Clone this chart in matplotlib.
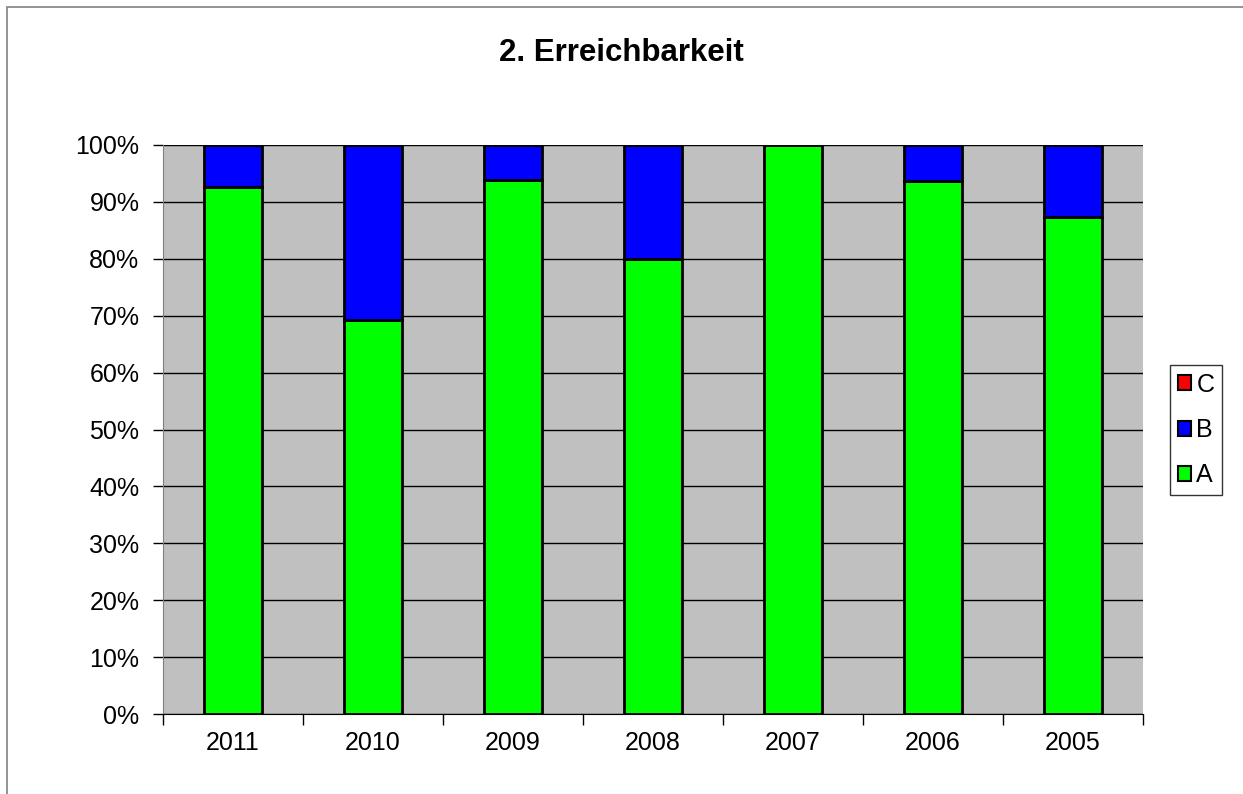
# Erreichbarkeit - stacked 100% bars

import numpy as np
import matplotlib.pyplot as plt
from matplotlib.ticker import FuncFormatter, FixedLocator

plt.rcParams["font.family"] = ["Liberation Sans", "DejaVu Sans"]

# ------------------------------------------
# Data (share in %)
# ------------------------------------------

years = ["2011", "2010", "2009", "2008", "2007", "2006", "2005"]
share_a = [92.6, 69.2, 93.8, 79.9, 100.0, 93.6, 87.3]
share_b = [7.4, 30.8, 6.2, 20.1, 0.0, 6.4, 12.7]
share_c = [0.0, 0.0, 0.0, 0.0, 0.0, 0.0, 0.0]

# ------------------------------------------
# Figure
# ------------------------------------------

fig = plt.figure(figsize=(12.43, 7.94), dpi=100)
fig.patch.set_facecolor("white")

# outer chart frame
fig.patches.append(plt.Rectangle((7 / 1243, -0.01), 1.1, 1 - 7 / 794 + 0.01,
                                 transform=fig.transFigure, fill=False,
                                 edgecolor="#808080", linewidth=1.2))

ax = fig.add_axes([163 / 1243, 1 - 714 / 794, 980 / 1243, 569 / 794])
ax.set_facecolor("#C0C0C0")

x = np.arange(len(years))
a = np.array(share_a)
b = np.array(share_b)
c = np.array(share_c)

bar_w = 0.41
bars_a = ax.bar(x, a, bar_w, color="#00FF00", edgecolor="black", linewidth=2, label="A", zorder=3)
bars_b = ax.bar(x, b, bar_w, bottom=a, color="#0000FF", edgecolor="black", linewidth=2, label="B", zorder=3)
bars_c = ax.bar(x, c, bar_w, bottom=a + b, color="#FF0000", edgecolor="black", linewidth=2, label="C", zorder=3)

ax.set_xlim(-0.5, len(years) - 0.5)
ax.set_ylim(0, 100)

ax.set_yticks(np.arange(0, 101, 10))
ax.yaxis.set_major_formatter(FuncFormatter(lambda v, p: f"{v:.0f}%"))
ax.yaxis.grid(True, color="black", linewidth=1, zorder=1)
ax.set_axisbelow(True)

ax.set_xticks(x)
ax.set_xticklabels(years)
ax.xaxis.set_minor_locator(FixedLocator(np.arange(-0.5, len(years), 1.0)))
ax.tick_params(axis="x", which="major", length=0, pad=12, labelsize=18)
ax.tick_params(axis="x", which="minor", length=8, width=1, direction="out")
ax.tick_params(axis="y", length=7, width=1, direction="out", labelsize=18, pad=10)

for side in ["top", "right"]:
    ax.spines[side].set_visible(False)
ax.spines["left"].set_color("#808080")
ax.spines["bottom"].set_color("black")

fig.text(0.5, 1 - 53 / 794, "2. Erreichbarkeit", ha="center", va="center",
         fontsize=22.5, fontweight="bold")

leg = ax.legend(handles=[bars_c, bars_b, bars_a], labels=["C", "B", "A"],
                loc="center left", bbox_to_anchor=(1170 / 1243, 1 - 430 / 794),
                bbox_transform=fig.transFigure, borderaxespad=0, fontsize=18,
                frameon=True, fancybox=False, edgecolor="black",
                handlelength=0.55, handleheight=0.55, handletextpad=0.2,
                labelspacing=0.85, borderpad=0.3)
leg.get_frame().set_linewidth(1)
for h in leg.legend_handles:
    h.set_linewidth(1.5)

fig.savefig("out.png", dpi=100)
